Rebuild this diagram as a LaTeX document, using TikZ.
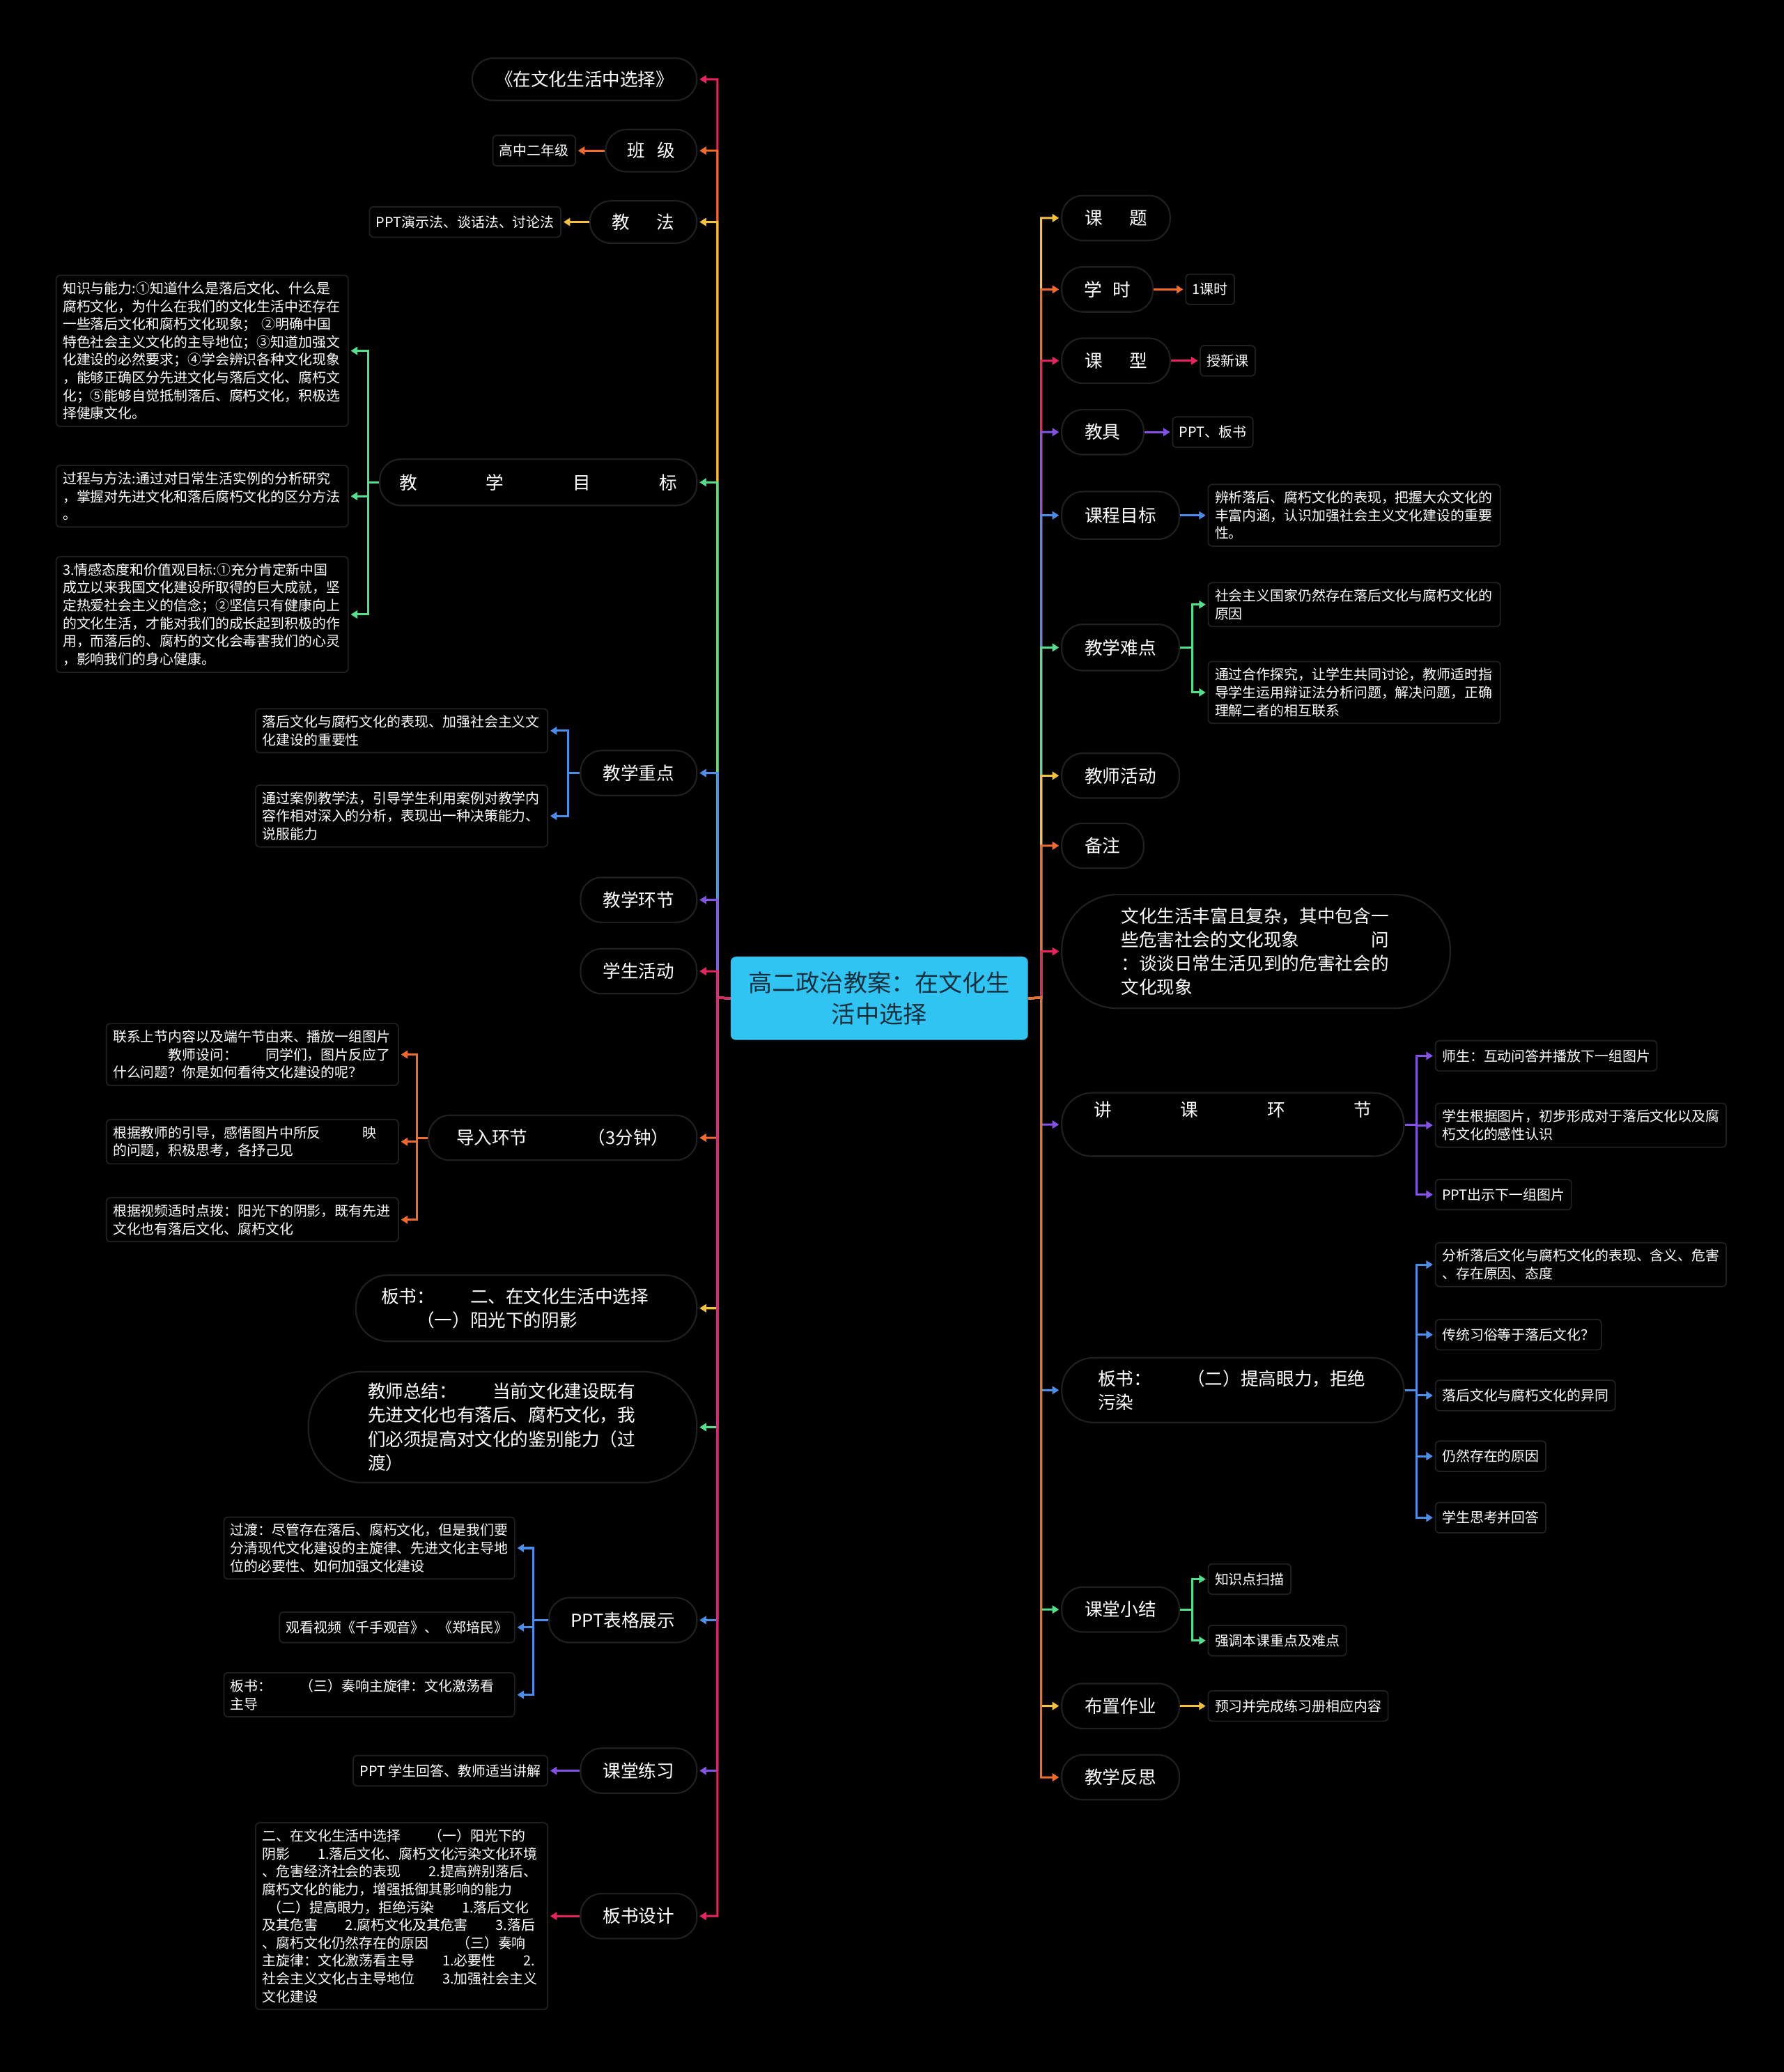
\documentclass[tikz,border=0pt]{standalone}
\usepackage{fontspec}
\setmainfont{Noto Sans CJK SC}
\usetikzlibrary{arrows.meta}
\definecolor{rim}{HTML}{1F1F1F}
\definecolor{rootfill}{HTML}{30C4F3}
\definecolor{rootink}{HTML}{15303C}
\definecolor{cred}{HTML}{E8235E}
\definecolor{corange}{HTML}{F26B2B}
\definecolor{cyellow}{HTML}{F7C23B}
\definecolor{cgreen}{HTML}{52E08C}
\definecolor{cblue}{HTML}{4A8EEA}
\definecolor{cpurple}{HTML}{8452E6}
\begin{document}
\begin{tikzpicture}[x=1pt, y=-1pt,
  root/.style={draw=none, fill=rootfill, text=rootink, rounded corners=4pt,
               minimum width=225pt, minimum height=63pt, align=center,
               font=\fontsize{18}{24}\selectfont},
  topic/.style={draw=rim, line width=1.2pt, fill=black, text=white,
                rounded corners=16pt, minimum height=34pt, inner xsep=0pt,
                font=\fontsize{13.5}{18}\selectfont},
  leaf/.style={draw=rim, line width=1pt, fill=black, text=white,
               rounded corners=3pt, inner xsep=5pt, inner ysep=5pt, align=left,
               minimum height=23pt, font=\fontsize{10.5}{13.5}\selectfont},
  link/.style={-{Triangle[length=5pt,width=6pt]}, line width=1.6pt, shorten >=1.5pt}
]
  \fill[black] (0,0) rectangle (1350,1568);
  \useasboundingbox (0,0) rectangle (1350,1568);

  \node[root] (root) at (665.5,755.5) {高二政治教案：在文化生\\活中选择};
  \coordinate (jl) at (543,755);
  \coordinate (jr) at (788,755);

  % left topics
  \node[topic, anchor=east, minimum width=170pt, minimum height=32pt] (lTitle) at (528,60) {《在文化生活中选择》};
  \node[topic, anchor=east, minimum width=69pt, minimum height=32pt] (lClass) at (528,114) {班\hspace{0.7em}级};
  \node[topic, anchor=east, minimum width=81pt, minimum height=32pt] (lMethod) at (528,168) {教\hspace{1.5em}法};
  \node[topic, anchor=east, minimum width=240pt, minimum height=35pt] (lGoal) at (528,365) {\makebox[210pt]{教\hfill 学\hfill 目\hfill 标}};
  \node[topic, anchor=east, minimum width=88pt] (lKey) at (528,585) {教学重点};
  \node[topic, anchor=east, minimum width=88pt] (lStep) at (528,681) {教学环节};
  \node[topic, anchor=east, minimum width=88pt] (lAct) at (528,735) {学生活动};
  \node[topic, anchor=east, minimum width=203pt] (lIntro) at (528,861) {\makebox[161pt]{导入环节\hfill（3分钟）}};
  \node[topic, anchor=east, minimum width=258pt, minimum height=50pt, rounded corners=24pt,
        text width=220pt, align=left] (lBoard) at (528,990) {板书：　　二、在文化生活中选择\\　　（一）阳光下的阴影};
  \node[topic, anchor=east, minimum width=294pt, minimum height=84pt, rounded corners=41pt,
        text width=204pt, align=left] (lSum) at (528,1080) {教师总结：　　当前文化建设既有\\先进文化也有落后、腐朽文化，我\\们必须提高对文化的鉴别能力（过\\渡）};
  \node[topic, anchor=east, minimum width=112pt] (lPPT) at (528,1226) {PPT表格展示};
  \node[topic, anchor=east, minimum width=88pt] (lPrac) at (528,1340) {课堂练习};
  \node[topic, anchor=east, minimum width=88pt] (lDesign) at (528,1450) {板书设计};

  % left leaves
  \node[leaf, anchor=east] (lClassA) at (436,114) {高中二年级};
  \node[leaf, anchor=east] (lMethodA) at (425,168) {PPT演示法、谈话法、讨论法};
  \node[leaf, anchor=east, text width=211pt] (lGoalA) at (264,265.5) {知识与能力:①知道什么是落后文化、什么是\\腐朽文化，为什么在我们的文化生活中还存在\\一些落后文化和腐朽文化现象； ②明确中国\\特色社会主义文化的主导地位；③知道加强文\\化建设的必然要求；④学会辨识各种文化现象\\，能够正确区分先进文化与落后文化、腐朽文\\化；⑤能够自觉抵制落后、腐朽文化，积极选\\择健康文化。};
  \node[leaf, anchor=east, text width=211pt] (lGoalB) at (264,375.5) {过程与方法:通过对日常生活实例的分析研究\\，掌握对先进文化和落后腐朽文化的区分方法\\。};
  \node[leaf, anchor=east, text width=211pt] (lGoalC) at (264,465) {3.情感态度和价值观目标:①充分肯定新中国\\成立以来我国文化建设所取得的巨大成就，坚\\定热爱社会主义的信念；②坚信只有健康向上\\的文化生活，才能对我们的成长起到积极的作\\用，而落后的、腐朽的文化会毒害我们的心灵\\，影响我们的身心健康。};
  \node[leaf, anchor=east, text width=211pt] (lKeyA) at (415,553) {落后文化与腐朽文化的表现、加强社会主义文\\化建设的重要性};
  \node[leaf, anchor=east, text width=211pt] (lKeyB) at (415,617.5) {通过案例教学法，引导学生利用案例对教学内\\容作相对深入的分析，表现出一种决策能力、\\说服能力};
  \node[leaf, anchor=east, text width=211pt] (lIntroA) at (302,798) {联系上节内容以及端午节由来、播放一组图片\\　　　　教师设问：　　同学们，图片反应了\\什么问题？你是如何看待文化建设的呢？};
  \node[leaf, anchor=east, text width=211pt] (lIntroB) at (302,864) {根据教师的引导，感悟图片中所反　　　映\\的问题，积极思考，各抒己见};
  \node[leaf, anchor=east, text width=211pt] (lIntroC) at (302,923) {根据视频适时点拨：阳光下的阴影，既有先进\\文化也有落后文化、腐朽文化};
  \node[leaf, anchor=east, text width=210pt] (lPPTA) at (390,1171.5) {过渡：尽管存在落后、腐朽文化，但是我们要\\分清现代文化建设的主旋律、先进文化主导地\\位的必要性、如何加强文化建设};
  \node[leaf, anchor=east] (lPPTB) at (390,1231.5) {观看视频《千手观音》、《郑培民》};
  \node[leaf, anchor=east, text width=210pt] (lPPTC) at (390,1282.5) {板书：　　（三）奏响主旋律：文化激荡看\\主导};
  \node[leaf, anchor=east] (lPracA) at (415,1340) {PPT 学生回答、教师适当讲解};
  \node[leaf, anchor=east, text width=211pt] (lDesignA) at (415,1450) {二、在文化生活中选择　　（一）阳光下的\\阴影　　1.落后文化、腐朽文化污染文化环境\\、危害经济社会的表现　　2.提高辨别落后、\\腐朽文化的能力，增强抵御其影响的能力\\\hspace{0.4em}（二）提高眼力，拒绝污染　　1.落后文化\\及其危害　　2.腐朽文化及其危害　　3.落后\\、腐朽文化仍然存在的原因　　（三）奏响\\主旋律：文化激荡看主导　　1.必要性　　2.\\社会主义文化占主导地位　　3.加强社会主义\\文化建设};

  % right topics
  \node[topic, anchor=west, minimum width=82pt] (rTopic) at (803,165) {课\hspace{1.5em}题};
  \node[topic, anchor=west, minimum width=69pt] (rHour) at (803,219) {学\hspace{0.6em}时};
  \node[topic, anchor=west, minimum width=82pt] (rType) at (803,273) {课\hspace{1.5em}型};
  \node[topic, anchor=west, minimum width=62pt] (rTool) at (803,327) {教具};
  \node[topic, anchor=west, minimum width=89pt, minimum height=36pt] (rAim) at (803,390) {课程目标};
  \node[topic, anchor=west, minimum width=89pt, minimum height=35pt] (rHard) at (803,490) {教学难点};
  \node[topic, anchor=west, minimum width=89pt] (rTeach) at (803,587) {教师活动};
  \node[topic, anchor=west, minimum width=62pt] (rNote) at (803,640) {备注};
  \node[topic, anchor=west, minimum width=294pt, minimum height=86pt, rounded corners=42pt,
        text width=204pt, align=left] (rLife) at (803,720) {文化生活丰富且复杂，其中包含一\\些危害社会的文化现象　　　　问\\：谈谈日常生活见到的危害社会的\\文化现象};
  \node[topic, anchor=west, minimum width=259pt, minimum height=48pt, rounded corners=23pt,
        align=center] (rLect) at (803,851) {\makebox[210pt]{讲\hfill 课\hfill 环\hfill 节}\\\strut};
  \node[topic, anchor=west, minimum width=259pt, minimum height=49pt, rounded corners=24pt,
        text width=204pt, align=left] (rBoard) at (803,1052) {板书：　　（二）提高眼力，拒绝\\污染};
  \node[topic, anchor=west, minimum width=89pt] (rSmall) at (803,1218) {课堂小结};
  \node[topic, anchor=west, minimum width=89pt] (rHome) at (803,1291) {布置作业};
  \node[topic, anchor=west, minimum width=89pt] (rRefl) at (803,1345) {教学反思};

  % right leaves
  \node[leaf, anchor=west] (rHourA) at (897,219) {1课时};
  \node[leaf, anchor=west] (rTypeA) at (908,273) {授新课};
  \node[leaf, anchor=west] (rToolA) at (887,327) {PPT、板书};
  \node[leaf, anchor=west, text width=211pt] (rAimA) at (914,390) {辨析落后、腐朽文化的表现，把握大众文化的\\丰富内涵，认识加强社会主义文化建设的重要\\性。};
  \node[leaf, anchor=west, text width=211pt] (rHardA) at (914,457.5) {社会主义国家仍然存在落后文化与腐朽文化的\\原因};
  \node[leaf, anchor=west, text width=211pt] (rHardB) at (914,524) {通过合作探究，让学生共同讨论，教师适时指\\导学生运用辩证法分析问题，解决问题，正确\\理解二者的相互联系};
  \node[leaf, anchor=west] (rLectA) at (1086,799) {师生：互动问答并播放下一组图片};
  \node[leaf, anchor=west, text width=210pt] (rLectB) at (1086,851.5) {学生根据图片，初步形成对于落后文化以及腐\\朽文化的感性认识};
  \node[leaf, anchor=west] (rLectC) at (1086,904) {PPT出示下一组图片};
  \node[leaf, anchor=west, text width=210pt] (rBoardA) at (1086,957) {分析落后文化与腐朽文化的表现、含义、危害\\、存在原因、态度};
  \node[leaf, anchor=west] (rBoardB) at (1086,1010) {传统习俗等于落后文化？};
  \node[leaf, anchor=west] (rBoardC) at (1086,1056) {落后文化与腐朽文化的异同};
  \node[leaf, anchor=west] (rBoardD) at (1086,1102) {仍然存在的原因};
  \node[leaf, anchor=west] (rBoardE) at (1086,1148.5) {学生思考并回答};
  \node[leaf, anchor=west] (rSmallA) at (914,1195) {知识点扫描};
  \node[leaf, anchor=west] (rSmallB) at (914,1241.5) {强调本课重点及难点};
  \node[leaf, anchor=west] (rHomeA) at (914,1291) {预习并完成练习册相应内容};

  % left spine, upper then lower
  \draw[link, cred] (root.west) -- (jl) |- (lTitle.east);
  \draw[link, corange] (root.west) -- (jl) |- (lClass.east);
  \draw[link, cyellow] (root.west) -- (jl) |- (lMethod.east);
  \draw[link, cgreen] (root.west) -- (jl) |- (lGoal.east);
  \draw[link, cblue] (root.west) -- (jl) |- (lKey.east);
  \draw[link, cpurple] (root.west) -- (jl) |- (lStep.east);
  \draw[link, cred] (root.west) -- (jl) |- (lAct.east);
  \draw[link, corange] (root.west) -- (jl) |- (lIntro.east);
  \draw[link, cyellow] (root.west) -- (jl) |- (lBoard.east);
  \draw[link, cgreen] (root.west) -- (jl) |- (lSum.east);
  \draw[link, cblue] (root.west) -- (jl) |- (lPPT.east);
  \draw[link, cpurple] (root.west) -- (jl) |- (lPrac.east);
  \draw[link, cred] (root.west) -- (jl) |- (lDesign.east);

  % right spine, upper then lower
  \draw[link, cyellow] (root.east) -- (jr) |- (rTopic.west);
  \draw[link, corange] (root.east) -- (jr) |- (rHour.west);
  \draw[link, cred] (root.east) -- (jr) |- (rType.west);
  \draw[link, cpurple] (root.east) -- (jr) |- (rTool.west);
  \draw[link, cblue] (root.east) -- (jr) |- (rAim.west);
  \draw[link, cgreen] (root.east) -- (jr) |- (rHard.west);
  \draw[link, cyellow] (root.east) -- (jr) |- (rTeach.west);
  \draw[link, corange] (root.east) -- (jr) |- (rNote.west);
  \draw[link, cred] (root.east) -- (jr) |- (rLife.west);
  \draw[link, cpurple] (root.east) -- (jr) |- (rLect.west);
  \draw[link, cblue] (root.east) -- (jr) |- (rBoard.west);
  \draw[link, cgreen] (root.east) -- (jr) |- (rSmall.west);
  \draw[link, cyellow] (root.east) -- (jr) |- (rHome.west);
  \draw[link, corange] (root.east) -- (jr) |- (rRefl.west);

  % left sub-branches
  \draw[link, corange] (lClass.west) -- (lClassA.east);
  \draw[link, cyellow] (lMethod.west) -- (lMethodA.east);
  \draw[link, cgreen] (lGoal.west) -- ++(-8,0) |- (lGoalA.east);
  \draw[link, cgreen] (lGoal.west) -- ++(-8,0) |- (lGoalB.east);
  \draw[link, cgreen] (lGoal.west) -- ++(-8,0) |- (lGoalC.east);
  \draw[link, cblue] (lKey.west) -- ++(-9,0) |- (lKeyA.east);
  \draw[link, cblue] (lKey.west) -- ++(-9,0) |- (lKeyB.east);
  \draw[link, corange] (lIntro.west) -- ++(-8,0) |- (lIntroA.east);
  \draw[link, corange] (lIntro.west) -- ++(-8,0) |- (lIntroB.east);
  \draw[link, corange] (lIntro.west) -- ++(-8,0) |- (lIntroC.east);
  \draw[link, cblue] (lPPT.west) -- ++(-11,0) |- (lPPTA.east);
  \draw[link, cblue] (lPPT.west) -- ++(-11,0) |- (lPPTB.east);
  \draw[link, cblue] (lPPT.west) -- ++(-11,0) |- (lPPTC.east);
  \draw[link, cpurple] (lPrac.west) -- (lPracA.east);
  \draw[link, cred] (lDesign.west) -- (lDesignA.east);

  % right sub-branches
  \draw[link, corange] (rHour.east) -- (rHourA.west);
  \draw[link, cred] (rType.east) -- (rTypeA.west);
  \draw[link, cpurple] (rTool.east) -- (rToolA.west);
  \draw[link, cblue] (rAim.east) -- (rAimA.west);
  \draw[link, cgreen] (rHard.east) -- ++(9,0) |- (rHardA.west);
  \draw[link, cgreen] (rHard.east) -- ++(9,0) |- (rHardB.west);
  \draw[link, cpurple] (rLect.east) -- ++(9,0) |- (rLectA.west);
  \draw[link, cpurple] (rLect.east) -- ++(9,0) |- (rLectB.west);
  \draw[link, cpurple] (rLect.east) -- ++(9,0) |- (rLectC.west);
  \draw[link, cblue] (rBoard.east) -- ++(9,0) |- (rBoardA.west);
  \draw[link, cblue] (rBoard.east) -- ++(9,0) |- (rBoardB.west);
  \draw[link, cblue] (rBoard.east) -- ++(9,0) |- (rBoardC.west);
  \draw[link, cblue] (rBoard.east) -- ++(9,0) |- (rBoardD.west);
  \draw[link, cblue] (rBoard.east) -- ++(9,0) |- (rBoardE.west);
  \draw[link, cgreen] (rSmall.east) -- ++(9,0) |- (rSmallA.west);
  \draw[link, cgreen] (rSmall.east) -- ++(9,0) |- (rSmallB.west);
  \draw[link, cyellow] (rHome.east) -- (rHomeA.west);
\end{tikzpicture}
\end{document}
